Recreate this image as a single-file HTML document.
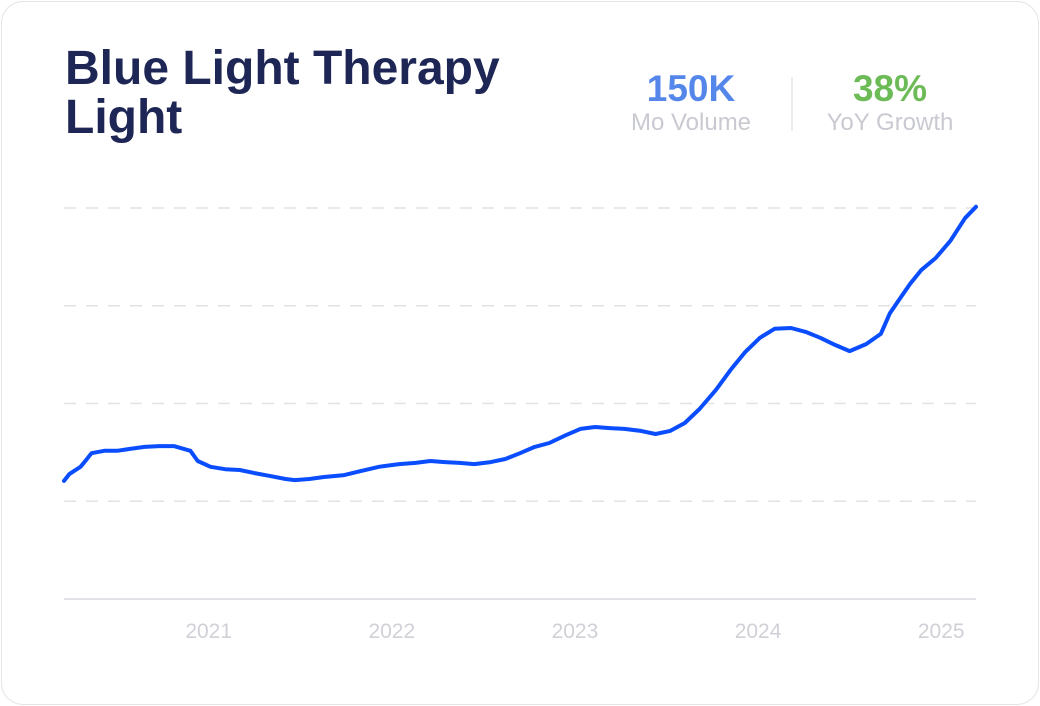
<!DOCTYPE html>
<html><head><meta charset="utf-8"><style>
html,body{margin:0;padding:0;background:#fff;width:1040px;height:706px;overflow:hidden;font-family:"Liberation Sans",sans-serif}
.card{position:absolute;left:1px;top:1px;width:1036px;height:702px;border:1px solid #e3e3e8;border-radius:22px;background:#fff}
.title{position:absolute;left:65px;top:44px;font-size:48px;font-weight:bold;color:#1d2654;line-height:49px;letter-spacing:0px}
.stat{position:absolute;text-align:center;width:180px}
.big{font-size:37px;font-weight:bold;line-height:40px}
.lbl{font-size:24px;color:#c9cad1;line-height:28px;margin-top:0px}
.div{position:absolute;left:791px;top:77px;width:2px;height:54px;background:#ececf0}
svg{position:absolute;left:0;top:0}
</style></head><body>
<div class="card"></div>
<div class="title">Blue Light Therapy<br>Light</div>
<div class="stat" style="left:601px;top:69px"><div class="big" style="color:#5587ea">150K</div><div class="lbl">Mo Volume</div></div>
<div class="div"></div>
<div class="stat" style="left:800px;top:69px"><div class="big" style="color:#6dbb57">38%</div><div class="lbl">YoY Growth</div></div>
<svg id="chart" width="1040" height="706"></svg>
<script>
const dates=[2020.21,2020.24,2020.30,2020.33,2020.36,2020.43,2020.50,2020.57,2020.65,2020.73,2020.81,2020.90,2020.94,2021.01,2021.09,2021.17,2021.25,2021.33,2021.42,2021.47,2021.55,2021.63,2021.74,2021.83,2021.93,2022.04,2022.13,2022.21,2022.29,2022.37,2022.45,2022.54,2022.62,2022.70,2022.78,2022.86,2022.95,2023.03,2023.11,2023.19,2023.27,2023.36,2023.44,2023.52,2023.60,2023.68,2023.77,2023.85,2023.93,2024.01,2024.09,2024.18,2024.26,2024.34,2024.42,2024.50,2024.59,2024.67,2024.72,2024.78,2024.83,2024.89,2024.97,2025.05,2025.13,2025.19];
const values=[30.2,32.0,33.8,35.5,37.3,37.9,37.9,38.4,38.9,39.1,39.1,37.9,35.3,33.8,33.2,33.0,32.2,31.5,30.7,30.4,30.7,31.2,31.7,32.7,33.8,34.5,34.8,35.3,35.0,34.8,34.5,35.0,35.8,37.3,38.9,39.9,41.9,43.5,44.0,43.7,43.5,43.0,42.2,43.0,45.0,48.6,53.5,58.6,63.2,66.8,69.1,69.3,68.3,66.8,65.0,63.4,65.2,67.8,73.1,77.2,80.6,84.1,87.2,91.6,97.4,100.3];
const yearTicks=[2021,2022,2023,2024,2025];
const gridVals=[25,50,75,100];
const svg=document.getElementById('chart');
const NS='http://www.w3.org/2000/svg';
const x0=64,x1=976,yb=599,yt=208,d0=2020.21,d1=2025.19;
function X(d){return x0+(d-d0)/(d1-d0)*(x1-x0);}
function Y(v){return yb-v/100*(yb-yt);}
gridVals.forEach(g=>{const l=document.createElementNS(NS,'line');
l.setAttribute('x1',x0);l.setAttribute('x2',x1);l.setAttribute('y1',Y(g));l.setAttribute('y2',Y(g));
l.setAttribute('stroke','#e2e2e6');l.setAttribute('stroke-width','1.5');l.setAttribute('stroke-dasharray','12 10');


svg.appendChild(l);});
const ax=document.createElementNS(NS,'line');
ax.setAttribute('x1',x0);ax.setAttribute('x2',x1);ax.setAttribute('y1',yb);ax.setAttribute('y2',yb);
ax.setAttribute('stroke','#e2e2e6');ax.setAttribute('stroke-width','2');


svg.appendChild(ax);
yearTicks.forEach(y=>{const t=document.createElementNS(NS,'text');
t.setAttribute('x',X(y));t.setAttribute('y',638);t.setAttribute('text-anchor','middle');
t.setAttribute('font-size','21');t.setAttribute('fill','#d0d1d8');t.setAttribute('font-family','Liberation Sans, sans-serif');
t.textContent=y;


svg.appendChild(t);});
const p=document.createElementNS(NS,'path');
p.setAttribute('d',dates.map((d,i)=>(i?'L':'M')+X(d).toFixed(1)+','+Y(values[i]).toFixed(1)).join(''));
p.setAttribute('fill','none');p.setAttribute('stroke','#0a4dff');p.setAttribute('stroke-width','4');
p.setAttribute('stroke-linejoin','round');p.setAttribute('stroke-linecap','round');


svg.appendChild(p);
</script>
</body></html>
